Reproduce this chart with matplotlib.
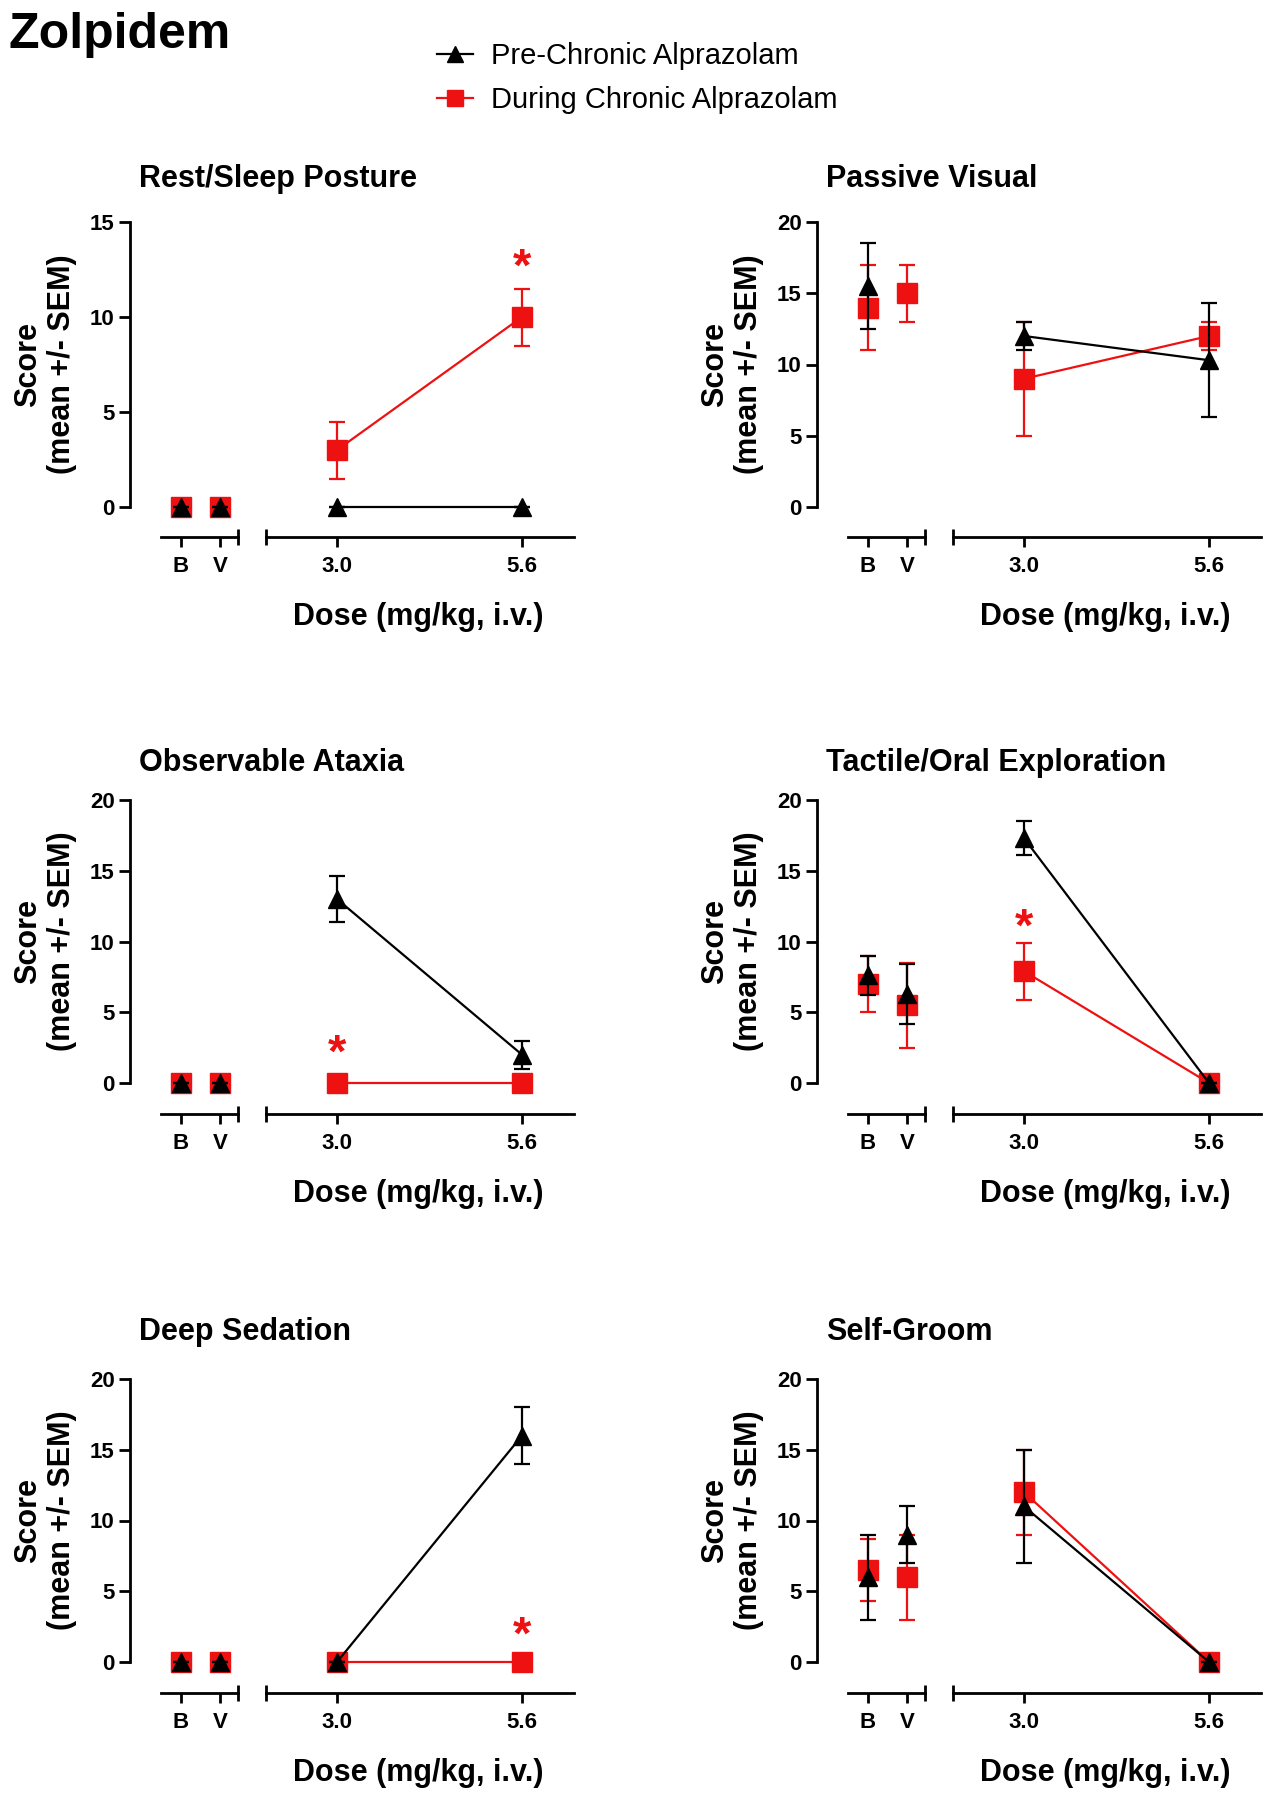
import matplotlib
matplotlib.use("Agg")
import matplotlib.pyplot as plt
from matplotlib.lines import Line2D
import numpy as np

plt.rcParams['font.family'] = ['Liberation Sans', 'DejaVu Sans']

# ---- data -------------------------------------------------------------
control_labels = ['B', 'V']
doses = [3.0, 5.6]
dose_labels = ['3.0', '5.6']

titles = ['Rest/Sleep Posture', 'Passive Visual',
          'Observable Ataxia', 'Tactile/Oral Exploration',
          'Deep Sedation', 'Self-Groom']
y_max = [15, 20, 20, 20, 20, 20]

# each row: [B, V, 3.0, 5.6]
pre_mean = [
    [0, 0, 0, 0],
    [15.5, np.nan, 12.0, 10.3],
    [0, 0, 13.0, 2.0],
    [7.6, 6.3, 17.3, 0],
    [0, 0, 0, 16.0],
    [6.0, 9.0, 11.0, 0],
]
pre_sem = [
    [0, 0, 0, 0],
    [3.0, np.nan, 1.0, 4.0],
    [0, 0, 1.6, 1.0],
    [1.4, 2.1, 1.2, 0],
    [0, 0, 0, 2.0],
    [3.0, 2.0, 4.0, 0],
]
during_mean = [
    [0, 0, 3.0, 10.0],
    [14.0, 15.0, 9.0, 12.0],
    [0, 0, 0, 0],
    [7.0, 5.5, 7.9, 0],
    [0, 0, 0, 0],
    [6.5, 6.0, 12.0, 0],
]
during_sem = [
    [0, 0, 1.5, 1.5],
    [3.0, 2.0, 4.0, 1.0],
    [0, 0, 0, 0],
    [2.0, 3.0, 2.0, 0],
    [0, 0, 0, 0],
    [2.2, 3.0, 3.0, 0],
]

# significance stars
star_panel = [0, 2, 3, 4]
star_dose = [5.6, 3.0, 3.0, 5.6]
star_y = [13.0, 2.6, 11.5, 2.4]

RED = '#ee1111'
BLACK = '#000000'

# ---- layout (pixels of the 1285x1800 figure) ---------------------------
W, H = 1285, 1800
col_spine = [130, 817]
row_top = [222, 800, 1379]
row_zero = [507, 1083, 1662]
row_axis = [537, 1114, 1693]
title_base = [187, 771, 1340]

fig = plt.figure(figsize=(W / 100, H / 100), dpi=100)


def add_px_axes(x0, x1, ytop, ybot):
    ax = fig.add_axes([x0 / W, 1 - ybot / H, (x1 - x0) / W, (ybot - ytop) / H])
    ax.patch.set_visible(False)
    return ax


def px_to_data(px, p0, p1, v0, v1):
    return v0 + (px - p0) * (v1 - v0) / (p1 - p0)


lw_axis = 2.0
lw_data = 1.6

for i, title in enumerate(titles):
    r, c = divmod(i, 2)
    s = col_spine[c]
    ytop, yzero, ybot = row_top[r], row_zero[r], row_axis[r]
    ymax = y_max[i]
    ylo = -ymax * (ybot - yzero) / (yzero - ytop)

    ax_l = add_px_axes(s, s + 120, ytop, ybot)
    ax_r = add_px_axes(s + 125, s + 450, ytop, ybot)

    # x scales: B/V at 0/1, doses linear
    bx = (s + 51, s + 90)
    ax_l.set_xlim(px_to_data(s, *bx, 0, 1), px_to_data(s + 120, *bx, 0, 1))
    dx = (s + 207, s + 392)
    ax_r.set_xlim(px_to_data(s + 125, *dx, doses[0], doses[1]),
                  px_to_data(s + 450, *dx, doses[0], doses[1]))

    for ax in (ax_l, ax_r):
        ax.set_ylim(ylo, ymax)
        ax.spines['top'].set_visible(False)
        ax.spines['right'].set_visible(False)
        ax.spines['bottom'].set_linewidth(lw_axis)
        ax.spines['left'].set_linewidth(lw_axis)
        ax.tick_params(axis='x', which='major', direction='out', length=7,
                       width=lw_axis, pad=7, labelsize=16)
        ax.tick_params(axis='x', which='minor', direction='inout', length=11,
                       width=lw_axis)

    l_end = px_to_data(s + 108, *bx, 0, 1)
    ax_l.spines['bottom'].set_bounds(px_to_data(s + 31, *bx, 0, 1), l_end)
    ax_l.spines['left'].set_bounds(0, ymax)
    ax_l.set_xticks([0, 1], labels=control_labels, fontweight='bold')
    ax_l.set_xticks([l_end], minor=True)
    ax_l.set_yticks(np.arange(0, ymax + 1, 5),
                    labels=[str(v) for v in np.arange(0, ymax + 1, 5)],
                    fontweight='bold')
    ax_l.tick_params(axis='y', direction='out', length=8, width=lw_axis,
                     pad=3, labelsize=16)

    r_start = px_to_data(s + 136, *dx, doses[0], doses[1])
    ax_r.spines['bottom'].set_bounds(r_start, px_to_data(s + 444, *dx, doses[0], doses[1]))
    ax_r.spines['left'].set_visible(False)
    ax_r.set_xticks(doses, labels=dose_labels, fontweight='bold')
    ax_r.set_xticks([r_start], minor=True)
    ax_r.set_yticks([])

    series = [
        (during_mean[i], during_sem[i], RED, 's', 14, 3),
        (pre_mean[i], pre_sem[i], BLACK, '^', 13, 4),
    ]
    for mean, sem, col, mk, ms, z in series:
        kw = dict(color=col, marker=mk, markersize=ms, markerfacecolor=col,
                  markeredgecolor=col, elinewidth=lw_data, capsize=6,
                  capthick=lw_data, zorder=z, clip_on=False)
        ax_l.errorbar([0, 1], mean[:2], yerr=sem[:2], linestyle='none', **kw)
        ax_r.errorbar(doses, mean[2:], yerr=sem[2:], linestyle='-',
                      linewidth=lw_data, **kw)

    for p, d, yv in zip(star_panel, star_dose, star_y):
        if p == i:
            ax_r.annotate('*', xy=(d, yv), xytext=(0, -0.43 * 34),
                          textcoords='offset points', ha='center',
                          va='baseline', fontsize=34, fontweight='bold',
                          color=RED)

    fig.text((s + 9) / W, 1 - title_base[r] / H, title, ha='left',
             va='baseline', fontsize=22, fontweight='bold')
    fig.text((s - 85) / W, 1 - (ytop + yzero) / 2 / H,
             'Score\n(mean +/- SEM)', rotation=90, ha='center', va='center',
             multialignment='center', fontsize=22, fontweight='bold',
             linespacing=1.15)
    fig.text((s + 288) / W, 1 - (ybot + 80) / H, 'Dose (mg/kg, i.v.)',
             ha='center', va='center', fontsize=22, fontweight='bold')

fig.text(8 / W, 1 - 48 / H, 'Zolpidem', fontsize=36, fontweight='bold',
         va='baseline', ha='left')

handles = [
    Line2D([], [], color=BLACK, marker='^', markersize=11, linewidth=lw_data),
    Line2D([], [], color=RED, marker='s', markersize=12, linewidth=lw_data),
]
fig.legend(handles, ['Pre-Chronic Alprazolam', 'During Chronic Alprazolam'],
           loc='upper left', bbox_to_anchor=(437 / W, 1 - 42 / H),
           frameon=False, fontsize=21, handlelength=1.25, handletextpad=0.6,
           labelspacing=0.54, borderpad=0, borderaxespad=0)

fig.savefig('out.png', dpi=100)
